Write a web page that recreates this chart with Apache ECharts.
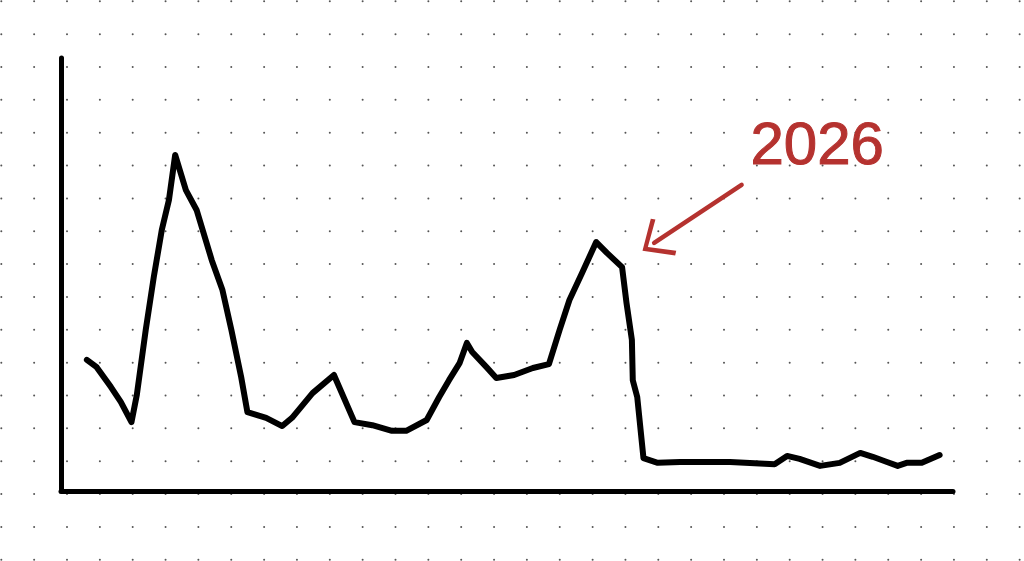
<!DOCTYPE html>
<html>
<head>
<meta charset="utf-8">
<script src="https://cdn.jsdelivr.net/npm/echarts@6/dist/echarts.min.js"></script>
<style>html,body{margin:0;padding:0;background:#fff;}#c{width:1024px;height:561px;}</style>
</head>
<body>
<div id="c"></div>
<script>
// Sketch values (x as % of the axis width, y as % of the axis height)
const xValues = [2.9, 4.0, 5.6, 6.7, 7.9, 8.5, 9.5, 10.4, 11.3, 12.1, 12.8, 14.0, 15.2, 16.9, 18.1, 19.1, 20.2, 20.9,
  23.0, 24.8, 25.9, 28.2, 30.6, 32.9, 34.9, 37.1, 38.7, 41.0, 42.4, 43.5, 44.7, 45.5, 46.1, 47.7, 48.8, 50.8, 52.9, 54.7,
  55.9, 57.0, 58.4, 60.0, 61.2, 62.9, 63.4, 64.0, 64.1, 64.6, 65.3, 66.9, 69.4, 71.6, 75.0, 80.0, 81.4, 82.8, 85.1, 87.3,
  89.6, 91.0, 92.6, 93.8, 94.8, 96.5, 98.5];
const yValues = [30.3, 28.6, 24.0, 20.6, 15.9, 22.2, 37.2, 49.4, 60.3, 67.2, 77.6, 69.5, 64.9, 53.3, 46.4, 37.2, 26.3, 18.2,
  16.9, 15.0, 16.9, 22.6, 26.8, 15.9, 15.2, 13.9, 13.9, 16.4, 21.7, 25.6, 29.6, 34.2, 32.1, 28.6, 26.1, 26.8, 28.4, 29.3,
  37.2, 44.1, 50.3, 57.5, 55.0, 51.7, 43.4, 34.9, 25.6, 21.7, 7.6, 6.5, 6.7, 6.7, 6.7, 6.2, 8.1, 7.4, 5.8, 6.5,
  8.8, 7.9, 6.7, 5.8, 6.5, 6.5, 8.3];
const annotationText = '2026';
const arrowFrom = [76.3, 70.7];
const arrowTo = [66.5, 57.3];

const seriesData = xValues.map((x, i) => [x, yValues[i]]);

// dotted paper background (decoration)
const dots = [];
const step = 32.85, off = 1.3;
for (let i = 0; off + i * step < 1024; i++) {
  for (let j = 0; off + j * step < 561; j++) {
    dots.push({type: 'circle', shape: {cx: off + i * step, cy: off + j * step, r: 1}, style: {fill: '#555'}, silent: true});
  }
}

const red = '#b5322f';
const chart = echarts.init(document.getElementById('c'), null, {renderer: 'canvas'});
chart.setOption({
  backgroundColor: '#ffffff',
  animation: false,
  graphic: [
    {type: 'group', z: 0, children: dots},
    {type: 'text', left: 750, top: 117, z: 10,
     style: {text: annotationText, fill: red, font: '60px "Liberation Sans"', stroke: red, lineWidth: 1}}
  ],
  grid: {left: 61, right: 71, top: 58, bottom: 70},
  xAxis: {
    type: 'value', min: 0, max: 100,
    axisLine: {show: true, lineStyle: {color: '#000', width: 5, cap: 'round'}},
    axisTick: {show: false}, axisLabel: {show: false}, splitLine: {show: false}
  },
  yAxis: {
    type: 'value', min: 0, max: 100,
    axisLine: {show: true, lineStyle: {color: '#000', width: 5, cap: 'round'}},
    axisTick: {show: false}, axisLabel: {show: false}, splitLine: {show: false}
  },
  series: [{
    type: 'line',
    data: seriesData,
    showSymbol: false,
    symbol: 'none',
    z: 5,
    lineStyle: {color: '#000', width: 6, cap: 'round', join: 'round'},
    markLine: {
      silent: true,
      animation: false,
      label: {show: false},
      lineStyle: {color: red, width: 4.5, type: 'solid', cap: 'round'},
      data: [[
        {coord: arrowFrom, symbol: 'none'},
        {coord: arrowTo, symbol: 'path://M0,0 L21,25 L18,28.5 L0,6.5 L-18,28.5 L-21,25 Z', symbolSize: [44, 28]}
      ]]
    }
  }]
});
</script>
</body>
</html>
